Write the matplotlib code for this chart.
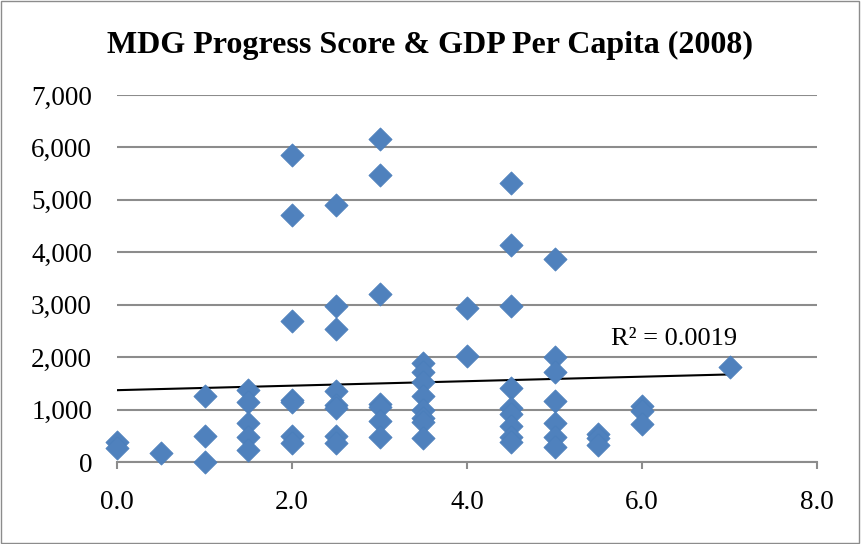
import matplotlib
matplotlib.use("Agg")
import matplotlib.pyplot as plt
from matplotlib.ticker import FuncFormatter, MultipleLocator

mdg_score = ([0.0]*2 + [0.5] + [1.0]*3 + [1.5]*5 + [2.0]*7 + [2.5]*8 + [3.0]*7 +
             [3.5]*8 + [4.0]*2 + [4.5]*9 + [5.0]*7 + [5.5]*3 + [6.0]*3 + [7.0])
gdp_per_capita = [380, 270,
                  170,
                  1250, 500, 0,
                  1380, 1140, 740, 470, 230,
                  5860, 4720, 2690, 1180, 1140, 500, 360,
                  4900, 2970, 2530, 1360, 1090, 1030, 500, 360,
                  6170, 5480, 3200, 1100, 1040, 790, 470,
                  1880, 1710, 1530, 1260, 1000, 830, 760, 450,
                  2930, 2020,
                  5320, 4140, 2980, 1420, 1030, 920, 690, 480, 380,
                  3880, 2000, 1720, 1170, 740, 480, 290,
                  530, 450, 330,
                  1060, 980, 730,
                  1820]
trend_x = [0.0, 7.0]
trend_y = [1370, 1670]
r2_label = "R² = 0.0019"
title = "MDG Progress Score & GDP Per Capita (2008)"

plt.rcParams['font.family'] = ['Liberation Serif', 'DejaVu Serif']

fig = plt.figure(figsize=(8.61, 5.44), dpi=100)
fig.patch.set_facecolor('white')
ax = fig.add_axes([117/861, (544-462)/544, 700/861, 367/544])

ax.plot(trend_x, trend_y, color='black', lw=1.5, zorder=2)
ax.scatter(mdg_score, gdp_per_capita, marker='D', s=140, color='#4F81BD',
           edgecolors='#4A7EBB', linewidths=0.5, zorder=3)

ax.set_xlim(0, 8)
ax.set_ylim(0, 7000)
ax.xaxis.set_major_locator(MultipleLocator(2))
ax.yaxis.set_major_locator(MultipleLocator(1000))
ax.xaxis.set_major_formatter(FuncFormatter(lambda v, p: f"{v:.1f}"))
ax.yaxis.set_major_formatter(FuncFormatter(lambda v, p: f"{int(v):,}"))
ax.grid(axis='y', color='#8C8C8C', lw=1.5)
ax.set_axisbelow(True)
for s in ['top', 'right', 'left']:
    ax.spines[s].set_visible(False)
ax.spines['bottom'].set_color('#8C8C8C')
ax.spines['bottom'].set_linewidth(1.5)
ax.tick_params(axis='x', direction='out', length=5, width=1.5, color='#8C8C8C',
               labelsize=19.5, pad=15)
ax.tick_params(axis='y', length=0, labelsize=19.5, pad=18)
for c in ax.collections:
    c.set_clip_on(False)

ax.text(7.09, 2130, r2_label, ha='right', va='bottom', fontsize=19)

fig.text(430/861, 1 - 45/544, title, ha='center', va='center',
         fontsize=23, fontweight='bold')

fig.add_artist(plt.Rectangle((0.001, 0.001), 0.997, 0.997, transform=fig.transFigure,
                             fill=False, edgecolor='#8C8C8C', lw=1))

fig.savefig('out.png', dpi=100)
